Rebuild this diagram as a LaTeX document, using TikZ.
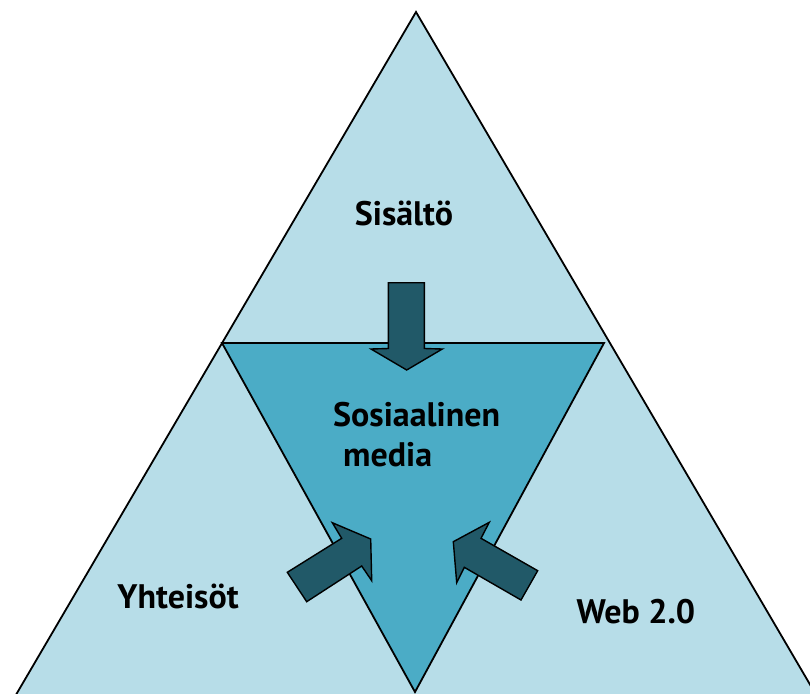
\documentclass[tikz,border=0pt]{standalone}
\usepackage{fontspec}
\setmainfont{PT Sans}
\definecolor{lightblue}{HTML}{B7DDE8}
\definecolor{midblue}{HTML}{4BACC6}
\definecolor{darkteal}{HTML}{215968}
\tikzset{
  region/.style={line width=1.8pt, draw=black, line join=miter},
  blockarrow/.style={fill=darkteal, draw=black, line width=1.4pt, line join=miter},
  label/.style={font=\bfseries\fontsize{34}{34}\selectfont, text=black, inner sep=0pt},
}
\begin{document}
\begin{tikzpicture}[x=1pt,y=-1pt]
\useasboundingbox (0,0) rectangle (810,693);
\begin{scope}
\clip (0,0) rectangle (810,693);
% outer triangle
\fill[lightblue] (416,12) -- (10,705) -- (822,705) -- cycle;
\draw[region] (10,705) -- (416,12) -- (822,705);
% inner inverted triangle
\filldraw[region, fill=midblue] (222,343) -- (604,343) -- (415,692) -- cycle;
\end{scope}
% arrows
\filldraw[blockarrow] (388.3,282.7) -- (424.3,282.7) -- (424.3,348.5) -- (442.3,349) -- (406.7,370) -- (371,349) -- (388.3,348.5) -- cycle;
\filldraw[blockarrow] (287.3,572.3) -- (341.7,538.3) -- (332.3,522.7) -- (370.7,539) -- (371.7,580.7) -- (361.7,566) -- (306.7,601.7) -- cycle;
\filldraw[blockarrow] (453.3,541.7) -- (489.3,522.3) -- (481,538.3) -- (537.7,570.7) -- (521,600) -- (464.3,567.3) -- (456.7,582.7) -- cycle;
% labels
\node[label, anchor=base] (sis) at (404,225) {Sisältö};
\node[label, anchor=base west] (som) at (333,426) {Sosiaalinen};
\node[label, anchor=base west] (med) at (343,466) {media};
\node[label, anchor=base] (yht) at (178,608) {Yhteisöt};
\node[label, anchor=base] (web) at (636,623) {Web 2.0};
\end{tikzpicture}
\end{document}
